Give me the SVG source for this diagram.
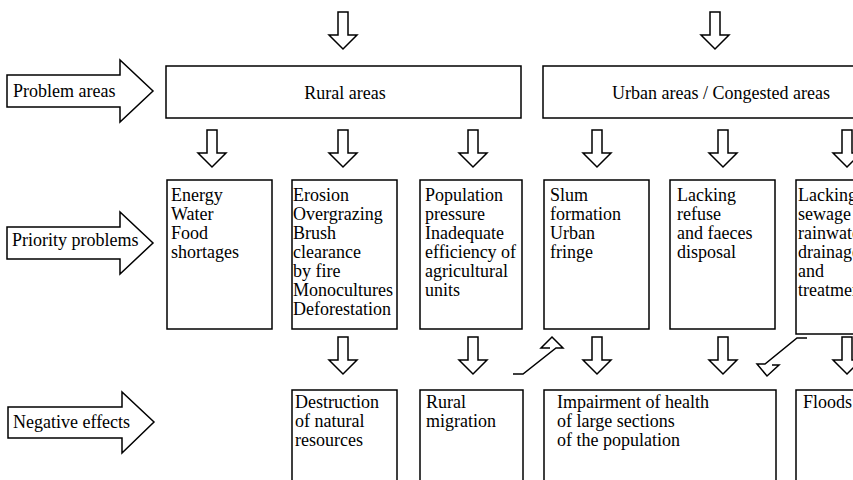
<svg xmlns="http://www.w3.org/2000/svg" xmlns:xlink="http://www.w3.org/1999/xlink" width="853" height="480" viewBox="0 0 853 480">
<style>
.box{fill:#fff;stroke:#000;stroke-width:1.5}
.arr{fill:#fff;stroke:#000;stroke-width:1.5;stroke-linejoin:miter}
.ln{fill:none;stroke:#000;stroke-width:1.5}
text{font-family:"Liberation Serif","Times New Roman",serif;font-size:18px;fill:#000}
</style>
<defs>
<path id="dn" d="M-5,0 H5 V23 H14 L0,37 L-14,23 H-5 Z"/>
</defs>
<rect width="853" height="480" fill="#fff"/>

<g id="label-problem-areas">
<path class="arr" d="M7,75 H120 V60 L153,91 L120,122 V107 H7 Z"/>
<text x="13" y="97">Problem areas</text>
</g>
<g id="label-priority-problems">
<path class="arr" d="M7,227 H120 V212 L153,243 L120,274 V259 H7 Z"/>
<text x="12" y="246">Priority problems</text>
</g>
<g id="label-negative-effects">
<path class="arr" d="M8,407 H122 V392 L154,422 L122,453 V438 H8 Z"/>
<text x="13" y="428">Negative effects</text>
</g>

<g id="rural-areas">
<rect class="box" x="166" y="66" width="355" height="52"/>
<text x="345" y="99" text-anchor="middle">Rural areas</text>
</g>
<g id="urban-areas">
<rect class="box" x="543" y="66" width="360" height="52"/>
<text x="721" y="99" text-anchor="middle">Urban areas / Congested areas</text>
</g>

<g id="p1">
<rect class="box" x="167" y="180" width="105" height="149"/>
<text x="171" y="201">Energy</text>
<text x="171" y="220">Water</text>
<text x="171" y="239">Food</text>
<text x="171" y="258">shortages</text>
</g>
<g id="p2">
<rect class="box" x="292" y="180" width="105" height="149"/>
<text x="293" y="201">Erosion</text>
<text x="293" y="220">Overgrazing</text>
<text x="293" y="239">Brush</text>
<text x="293" y="258">clearance</text>
<text x="293" y="277">by fire</text>
<text x="293" y="296">Monocultures</text>
<text x="293" y="315">Deforestation</text>
</g>
<g id="p3">
<rect class="box" x="420" y="180" width="102" height="149"/>
<text x="425" y="201">Population</text>
<text x="425" y="220">pressure</text>
<text x="425" y="239">Inadequate</text>
<text x="425" y="258">efficiency of</text>
<text x="425" y="277">agricultural</text>
<text x="425" y="296">units</text>
</g>
<g id="p4">
<rect class="box" x="544" y="180" width="105" height="149"/>
<text x="550" y="201">Slum</text>
<text x="550" y="220">formation</text>
<text x="550" y="239">Urban</text>
<text x="550" y="258">fringe</text>
</g>
<g id="p5">
<rect class="box" x="670" y="180" width="105" height="149"/>
<text x="677" y="201">Lacking</text>
<text x="677" y="220">refuse</text>
<text x="677" y="239">and faeces</text>
<text x="677" y="258">disposal</text>
</g>
<g id="p6">
<rect class="box" x="796" y="180" width="105" height="154"/>
<text x="798" y="201">Lacking</text>
<text x="798" y="220">sewage</text>
<text x="798" y="239">rainwater</text>
<text x="798" y="258">drainage</text>
<text x="798" y="277">and</text>
<text x="798" y="296">treatment</text>
</g>

<g id="n1">
<rect class="box" x="292" y="390" width="105" height="100"/>
<text x="295" y="408">Destruction</text>
<text x="295" y="427">of natural</text>
<text x="295" y="446">resources</text>
</g>
<g id="n2">
<rect class="box" x="420" y="390" width="103" height="100"/>
<text x="426" y="408">Rural</text>
<text x="426" y="427">migration</text>
</g>
<g id="n3">
<rect class="box" x="544" y="390" width="232" height="100"/>
<text x="557" y="408">Impairment of health</text>
<text x="557" y="427">of large sections</text>
<text x="557" y="446">of the population</text>
</g>
<g id="n4">
<rect class="box" x="796" y="390" width="105" height="100"/>
<text x="803" y="408">Floods</text>
</g>

<g id="connectors">
<use xlink:href="#dn" class="arr" x="343" y="12"/>
<use xlink:href="#dn" class="arr" x="715" y="12"/>
<use xlink:href="#dn" class="arr" x="212" y="130"/>
<use xlink:href="#dn" class="arr" x="343" y="130"/>
<use xlink:href="#dn" class="arr" x="473" y="130"/>
<use xlink:href="#dn" class="arr" x="597" y="130"/>
<use xlink:href="#dn" class="arr" x="723" y="130"/>
<use xlink:href="#dn" class="arr" x="847" y="130"/>
<use xlink:href="#dn" class="arr" x="343" y="337"/>
<use xlink:href="#dn" class="arr" x="473" y="337"/>
<use xlink:href="#dn" class="arr" x="597" y="337"/>
<use xlink:href="#dn" class="arr" x="723" y="337"/>
<use xlink:href="#dn" class="arr" x="847" y="337"/>
<path class="ln" d="M513,374 H523 L556,348 H563 L552,337 L541,348 H550"/>
<path class="ln" d="M807,338 H797 L765,364 H757 L767,376 L779,365 H772"/>
</g>
</svg>
